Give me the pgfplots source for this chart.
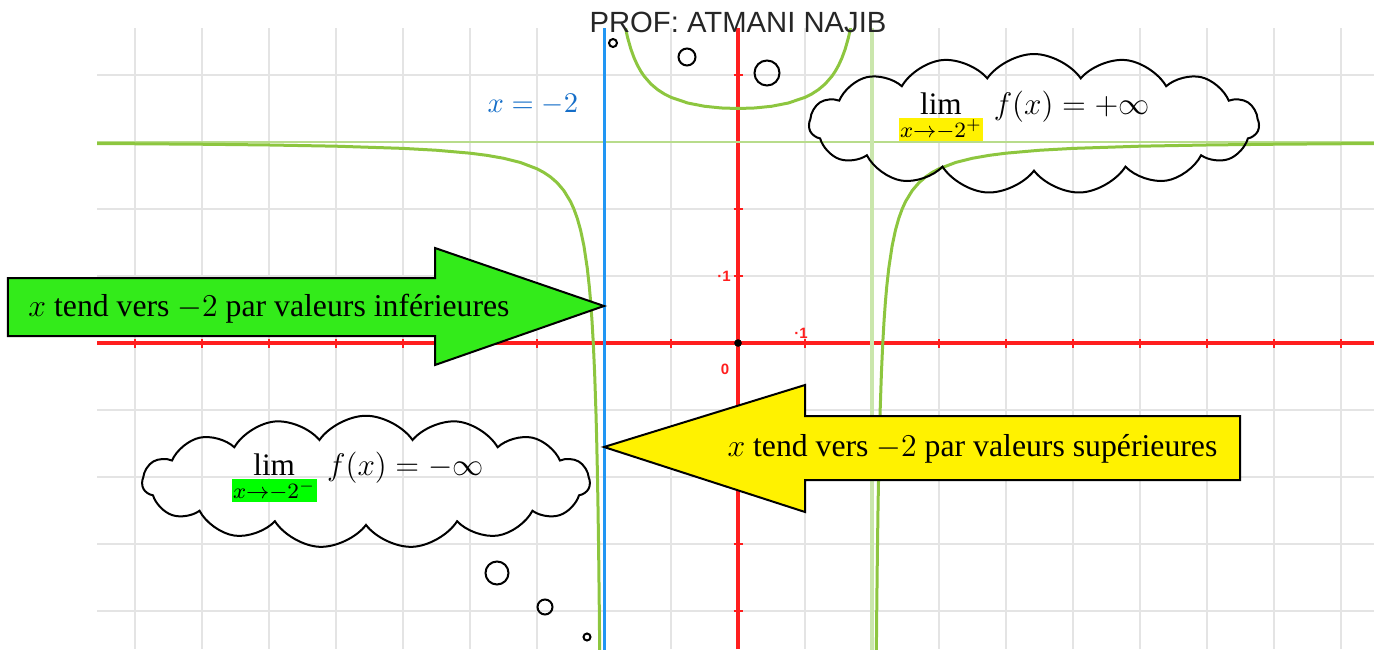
\RequirePackage{fix-cm}
\documentclass[border=0pt]{standalone}
\usepackage{fontspec}
\setmainfont{Liberation Serif}
\newfontfamily\arial{Liberation Sans}
\usepackage{pgfplots}
\pgfplotsset{compat=1.18}
\usetikzlibrary{shapes.symbols}

\definecolor{gridgray}{RGB}{228,228,228}
\definecolor{axred}{RGB}{255,30,30}
\definecolor{curvegreen}{RGB}{141,198,63}
\definecolor{asygreen}{RGB}{202,230,172}
\definecolor{asyblue}{RGB}{33,150,243}
\definecolor{labblue}{RGB}{21,110,200}
\definecolor{arrowgreen}{RGB}{51,235,26}
\definecolor{hlgreen}{RGB}{0,255,0}

% f(x) = 3 - 2/(x^2-4)
\pgfplotstableread{
x y
-9.6 2.9773
-9 2.9740
-8 2.9667
-7 2.9556
-6 2.9375
-5 2.9048
-4.5 2.8769
-4 2.8333
-3.75 2.8012
-3.5 2.7576
-3.25 2.6952
-3 2.6
-2.9 2.5465
-2.8 2.4792
-2.7 2.3921
-2.6 2.2754
-2.5 2.1111
-2.45 2.0012
-2.4 1.8636
-2.35 1.6864
-2.3 1.4496
-2.25 1.1176
-2.22 0.8458
-2.2 0.6190
-2.18 0.3418
-2.16 -0.0048
-2.14 -0.4507
-2.12 -1.0453
-2.11 -1.4238
-2.1 -1.8780
-2.09 -2.4333
-2.08 -3.1275
-2.07 -4.0200
-2.065 -4.5693
-2.06 -5.2102
}\leftbranch

\pgfplotstableread{
x y
-1.76 5.2163
-1.7 4.8018
-1.65 4.5656
-1.6 4.3889
-1.55 4.2520
-1.5 4.1429
-1.45 4.0540
-1.4 3.9804
-1.3 3.8658
-1.2 3.7813
-1.1 3.7168
-1 3.6667
-0.75 3.5818
-0.5 3.5333
-0.25 3.5079
0 3.5
0.25 3.5079
0.5 3.5333
0.75 3.5818
1 3.6667
1.1 3.7168
1.2 3.7813
1.3 3.8658
1.4 3.9804
1.45 4.0540
1.5 4.1429
1.55 4.2520
1.6 4.3889
1.65 4.5656
1.7 4.8018
1.76 5.2163
}\midbranch

\pgfplotstableread{
x y
2.06 -5.2102
2.065 -4.5693
2.07 -4.0200
2.08 -3.1275
2.09 -2.4333
2.1 -1.8780
2.11 -1.4238
2.12 -1.0453
2.14 -0.4507
2.16 -0.0048
2.18 0.3418
2.2 0.6190
2.22 0.8458
2.25 1.1176
2.3 1.4496
2.35 1.6864
2.4 1.8636
2.45 2.0012
2.5 2.1111
2.6 2.2754
2.7 2.3921
2.8 2.4792
2.9 2.5465
3 2.6
3.25 2.6952
3.5 2.7576
3.75 2.8012
4 2.8333
4.5 2.8769
5 2.9048
6 2.9375
7 2.9556
8 2.9667
9 2.9740
9.6 2.9773
}\rightbranch

\begin{document}
\begin{tikzpicture}
\begin{axis}[
  x=26.8pt, y=26.8pt,
  xmin=-9.567, xmax=9.493, ymin=-4.567, ymax=4.701,
  enlargelimits=false,
  axis lines=middle,
  axis line style={axred, line width=1.3pt, -},
  xtick={-9,...,9}, ytick={-4,...,4},
  xticklabels={}, yticklabels={},
  tick style={axred, line width=0.9pt},
  major tick length=3.6pt, tick align=center,
  grid=major,
  major grid style={gridgray, line width=0.8pt},
]
% asymptotes
\addplot[asygreen!70!curvegreen, line width=0.6pt] coordinates {(-9.8,3) (9.8,3)};
\addplot[asygreen, line width=1.4pt] coordinates {(2,-4.8) (2,4.9)};
\addplot[asyblue, line width=1.2pt] coordinates {(-2,-4.8) (-2,4.9)};
% courbe
\addplot[curvegreen, line width=1.2pt] table {\leftbranch};
\addplot[curvegreen, line width=1.2pt] table {\midbranch};
\addplot[curvegreen, line width=1.2pt] table {\rightbranch};
% origine
\addplot[only marks, mark=*, mark size=1.3pt, black] coordinates {(0,0)};
\coordinate (TL) at (axis cs:-11.01493,5.11940);
\end{axis}

\begin{scope}[shift={(TL)}, x=0.4pt, y=-0.4pt]
  % graduations
  \node[font=\arial\bfseries\fontsize{6}{7}\selectfont, text=axred, inner sep=0] at (725,369) {0};
  \node[font=\arial\bfseries\fontsize{6}{7}\selectfont, text=axred, inner sep=0] at (801,333) {·1};
  \node[font=\arial\bfseries\fontsize{6}{7}\selectfont, text=axred, inner sep=0] at (724,276) {·1};
  % titre
  \node[anchor=base, inner sep=0, font=\arial\fontsize{11.7}{14}\selectfont, text=black!85] at (738,32) {PROF: ATMANI NAJIB};
  % etiquette asymptote
  \node[anchor=base west, inner sep=0, text=labblue, font=\fontsize{11.4}{14}\selectfont] at (487,112) {$x=-2$};
  % fleches
  \draw[fill=arrowgreen, line width=0.8pt, line join=miter]
    (8,278) -- (435,278) -- (435,248) -- (604,306) -- (435,365) -- (435,336) -- (8,336) -- cycle;
  \node[anchor=base west, inner sep=0, font=\fontsize{12.7}{15}\selectfont] at (28,316)
    {$x$ tend vers $-2$ par valeurs inférieures};
  \draw[fill=yellow, line width=0.8pt, line join=miter]
    (1240,416) -- (805,416) -- (805,385) -- (604,447) -- (805,512) -- (805,480) -- (1240,480) -- cycle;
  \node[anchor=base west, inner sep=0, font=\fontsize{12.7}{15}\selectfont] at (727,456)
    {$x$ tend vers $-2$ par valeurs supérieures};
  % nuages
  \node[cloud, draw, line width=0.8pt, cloud puffs=15, cloud puff arc=110, cloud ignores aspect,
        minimum width=180pt, minimum height=56pt] at (1034,124) {};
  \draw[line width=0.8pt] (613,43) circle[radius=1.6pt] (687,57) circle[radius=3.4pt] (767,73) circle[radius=5pt];
  \node[cloud, draw, line width=0.8pt, cloud puffs=15, cloud puff arc=110, cloud ignores aspect,
        minimum width=179pt, minimum height=53pt] at (366,482) {};
  \draw[line width=0.8pt] (497,573) circle[radius=4.6pt] (545,607) circle[radius=3pt] (587,637) circle[radius=1.4pt];
  \setlength{\fboxsep}{0.6pt}
  \node[anchor=base west, inner sep=0, font=\fontsize{12.5}{15}\selectfont] at (898,114)
    {$\displaystyle\lim_{\colorbox{yellow}{$\scriptstyle x\to-2^{+}$}}\, f(x)=+\infty$};
  \node[anchor=base west, inner sep=0, font=\fontsize{12.5}{15}\selectfont] at (231,475)
    {$\displaystyle\lim_{\colorbox{hlgreen}{$\scriptstyle x\to-2^{-}$}}\, f(x)=-\infty$};
  \pgfresetboundingbox
  \path (0,0) rectangle (1374,649);
\end{scope}
\end{tikzpicture}
\end{document}
